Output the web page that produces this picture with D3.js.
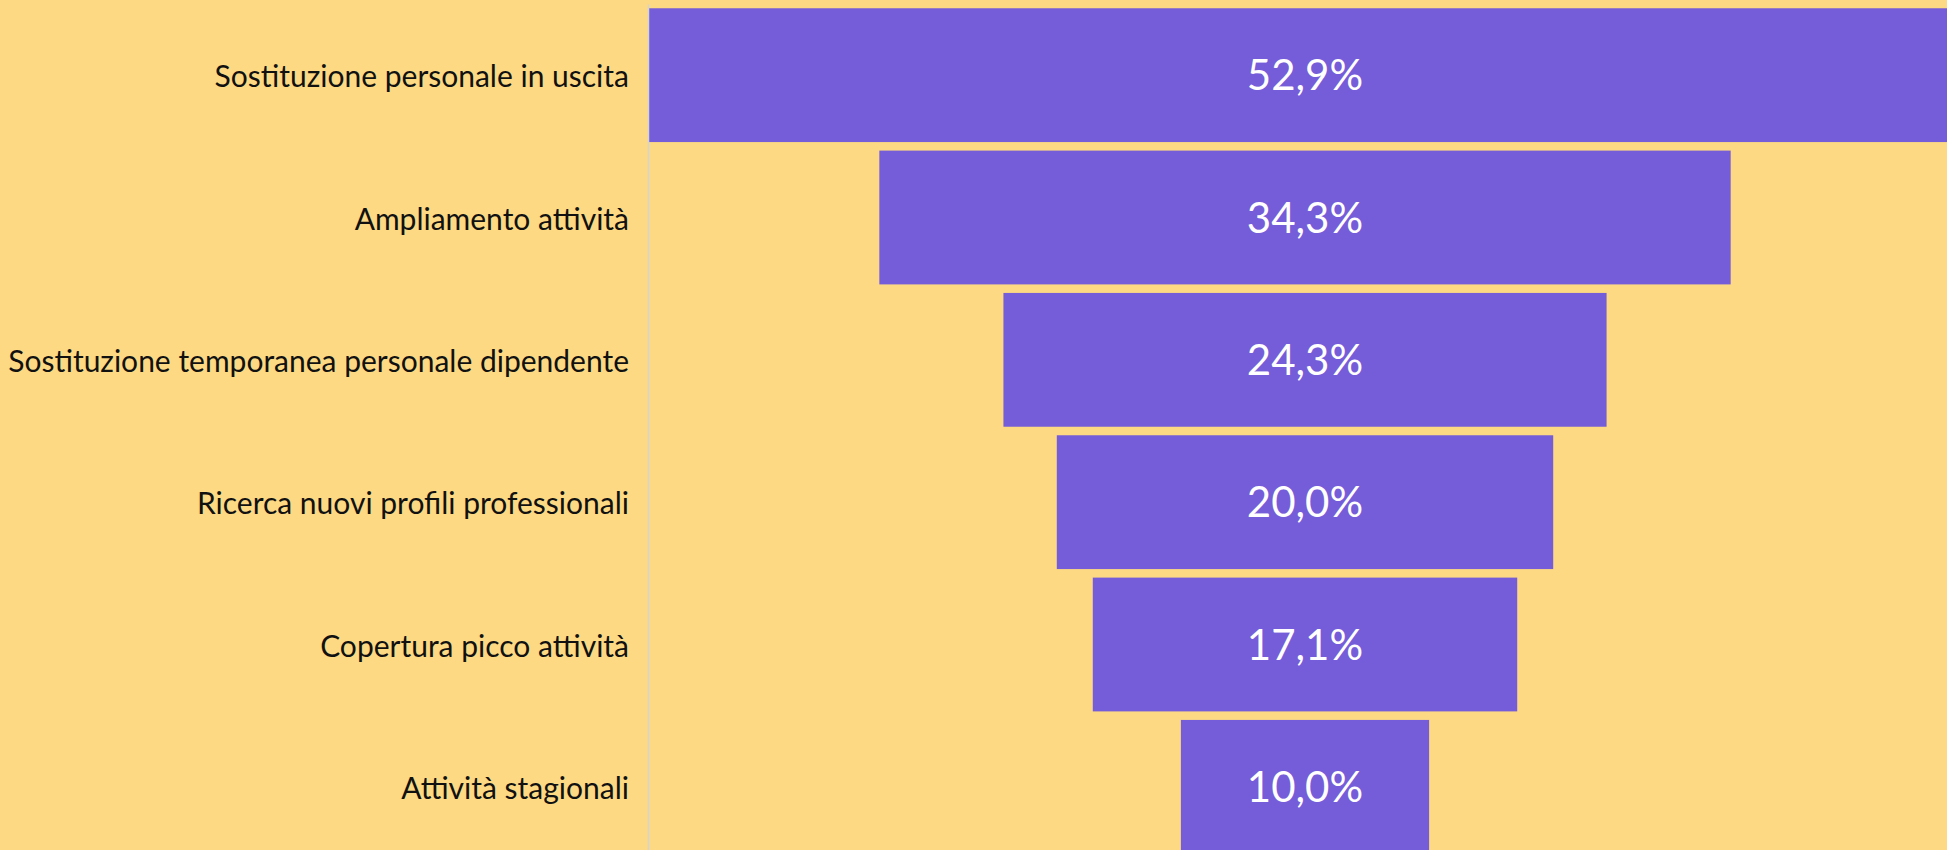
<!DOCTYPE html>
<html>
<head>
<meta charset="utf-8">
<script src="https://cdn.jsdelivr.net/npm/d3@7"></script>
<style>
    html, body { margin: 0; padding: 0; background: #FDD983; overflow: hidden; }
    svg { display: block; }
</style>
</head>
<body>
<svg></svg>
<script>
// categories and values (percent of hires by reason)
const CATEGORIES = [
    'Sostituzione personale in uscita',
    'Ampliamento attività',
    'Sostituzione temporanea personale dipendente',
    'Ricerca nuovi profili professionali',
    'Copertura picco attività',
    'Attività stagionali'
];
const VALUES = [52.9, 34.3, 24.3, 20.0, 17.1, 10.0];

const WIDTH = 1947;
const HEIGHT = 850;
const AXIS_X = 648;   // position of the category axis
const CENTER_X = 1305; // funnel bars are centered here

const svg = d3.select('svg')
    .attr('width', WIDTH)
    .attr('height', HEIGHT);

const data = CATEGORIES.map((c, i) => ({ cat: c, value: VALUES[i] }));

// bar length scale
const x = d3.scaleLinear()
    .domain([0, d3.max(VALUES)])
    .range([0, 1313]);

const y = d3.scaleBand()
    .domain(CATEGORIES)
    .range([4, 858])
    .paddingInner(0.06)
    .paddingOuter(0.03);

// italian number format: comma as decimal sep
const itFormat = d3.formatLocale({ decimal: ',', thousands: '.', grouping: [3], currency: ['€', ''] }).format('.1f');

// bars
svg.selectAll('.bar')
    .data(data)
    .join('rect')
    .classed('bar', true)
    .attr('x', d => CENTER_X - x(d.value) / 2)
    .attr('y', d => y(d.cat))
    .attr('width', d => x(d.value))
    .attr('height', y.bandwidth())
    .attr('fill', '#755CD9');

// value labels inside bars
svg.selectAll('.label')
    .data(data)
    .join('text')
    .classed('label', true)
    .text(d => itFormat(d.value) + '%')
    .attr('x', CENTER_X)
    .attr('y', d => y(d.cat) + y.bandwidth() / 2)
    .attr('dy', '0.36em')
    .attr('text-anchor', 'middle')
    .attr('fill', '#ffffff')
    .style('font-family', 'Lato, sans-serif')
    .style('font-size', '42px');

// category axis on the left
const axis = svg.append('g')
    .attr('transform', `translate(${AXIS_X}, 0)`)
    .call(d3.axisLeft(y).tickSize(0).tickSizeOuter(0).tickPadding(19));

axis.select('.domain')
    .attr('stroke', '#d4d4d4')
    .attr('stroke-width', 1.5);

axis.selectAll('text')
    .attr('fill', '#111111')
    .attr('dy', '0.4em')
    .style('font-family', 'Lato, sans-serif')
    .style('font-size', '30px');
</script>
</body>
</html>
